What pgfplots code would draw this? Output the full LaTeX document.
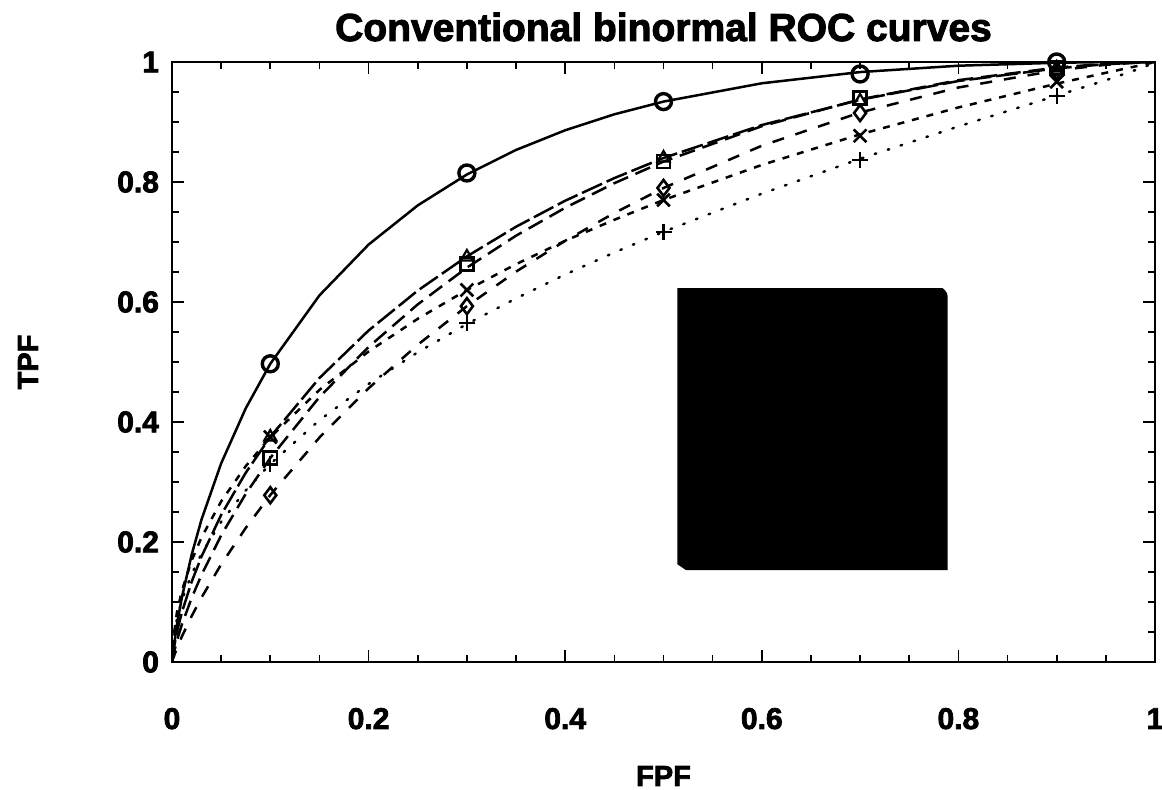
\documentclass[border=0pt]{standalone}
\usepackage{fontspec}
\setmainfont{Liberation Sans}
\newfontfamily\heavyfont{Liberation Sans}[BoldFeatures={FakeBold=2.5}]
\usepackage{pgfplots}
\pgfplotsset{compat=1.18}
\begin{document}
\begin{tikzpicture}
\useasboundingbox (-86pt,-64pt) rectangle (495pt,331pt);
\begin{axis}[
  at={(0,0)}, anchor=south west,
  scale only axis, width=491.5pt, height=300pt,
  xmin=0, xmax=1, ymin=0, ymax=1,
  xtick={0,0.2,0.4,0.6,0.8,1}, ytick={0,0.2,0.4,0.6,0.8,1},
  xticklabels={0,0.2,0.4,0.6,0.8,1}, yticklabels={0,0.2,0.4,0.6,0.8,1},
  minor x tick num=3, minor y tick num=3,
  tick align=inside, major tick length=6pt, minor tick length=3.5pt,
  every tick/.style={black, line width=0.8pt},
  axis line style={line width=1pt},
  xticklabel style={font=\heavyfont\fontsize{15}{15}\selectfont\bfseries, anchor=base, yshift=-33.5pt},
  yticklabel style={font=\heavyfont\fontsize{15}{15}\selectfont\bfseries, anchor=east, xshift=-3pt},
  xlabel={FPF}, ylabel={TPF},
  xlabel style={font=\heavyfont\fontsize{14.5}{14.5}\selectfont\bfseries, at={(axis description cs:0.5,0)}, anchor=base, yshift=-62pt},
  ylabel style={font=\heavyfont\fontsize{14.5}{14.5}\selectfont\bfseries, at={(axis description cs:-0.1465,0.5)}, anchor=center},
  title={Conventional binormal ROC curves},
  title style={font=\heavyfont\fontsize{19.5}{19.5}\selectfont\bfseries, at={(axis description cs:0.5,1)}, anchor=base, yshift=4.5pt},
  clip mode=individual,
  every axis plot/.append style={line width=1.25pt, black},
]
% legend box (blacked out)
\fill[black] (axis cs:0.514,0.623) -- (axis cs:0.784,0.623) [rounded corners=1.5pt] -- (axis cs:0.789,0.615) [sharp corners] -- (axis cs:0.789,0.153) -- (axis cs:0.523,0.153) -- (axis cs:0.514,0.163) -- cycle;

% circle: solid
\addplot[solid, mark=none] table {
x y
0 0
0.001 0.0161
0.005 0.0623
0.01 0.1073
0.02 0.1788
0.03 0.2373
0.05 0.331
0.075 0.4227
0.1 0.497
0.15 0.611
0.2 0.6957
0.25 0.761
0.3 0.8125
0.35 0.8534
0.4 0.8862
0.45 0.9128
0.5 0.934
0.6 0.9645
0.7 0.9832
0.8 0.9938
0.9 0.9987
0.95 0.9998
1 1
};
% triangle: long dash
\addplot[dash pattern=on 11pt off 2.5pt, mark=none] table {
x y
0 0
0.001 0.0150
0.005 0.0501
0.01 0.0826
0.02 0.1337
0.03 0.1757
0.05 0.2451
0.075 0.3153
0.1 0.3752
0.15 0.4733
0.2 0.5525
0.25 0.619
0.3 0.676
0.35 0.7254
0.4 0.7688
0.45 0.8065
0.5 0.84
0.6 0.8949
0.7 0.9371
0.8 0.9683
0.9 0.9894
0.95 0.9963
0.99 0.9996
1 1
};
% square: dashed long
\addplot[dash pattern=on 8pt off 4pt, mark=none] table {
x y
0 0
0.001 0.0091
0.005 0.0354
0.01 0.0622
0.02 0.1068
0.03 0.145
0.05 0.211
0.075 0.2802
0.1 0.340
0.15 0.4416
0.2 0.5251
0.25 0.596
0.3 0.6573
0.35 0.7105
0.4 0.757
0.45 0.798
0.5 0.834
0.6 0.893
0.7 0.9376
0.8 0.9697
0.9 0.9907
0.95 0.997
0.99 0.9998
1 1
};
% X: short dashes
\addplot[dash pattern=on 3.5pt off 4pt, mark=none] table {
x y
0 0
0.001 0.0349
0.005 0.0824
0.01 0.1186
0.02 0.169
0.03 0.2076
0.05 0.2676
0.075 0.3264
0.1 0.3745
0.15 0.4535
0.2 0.5175
0.25 0.572
0.3 0.620
0.35 0.663
0.4 0.702
0.45 0.737
0.5 0.77
0.6 0.8284
0.7 0.8794
0.8 0.9242
0.9 0.9639
0.95 0.982
0.99 0.9961
1 1
};
% diamond: medium dashes
\addplot[dash pattern=on 6pt off 6pt, mark=none] table {
x y
0 0
0.001 0.0053
0.005 0.0229
0.01 0.0423
0.02 0.0765
0.03 0.1073
0.05 0.1626
0.075 0.2233
0.1 0.2783
0.15 0.3741
0.2 0.4562
0.25 0.5287
0.3 0.593
0.35 0.6506
0.4 0.702
0.45 0.7483
0.5 0.79
0.6 0.8604
0.7 0.9158
0.8 0.9575
0.9 0.9861
0.95 0.9953
0.99 0.9998
1 1
};
% plus: dotted
\addplot[line cap=round, dash pattern=on 0.8pt off 6pt, mark=none] table {
x y
0 0
0.001 0.0307
0.005 0.0716
0.01 0.1028
0.02 0.1466
0.03 0.1804
0.05 0.2336
0.075 0.286
0.1 0.330
0.15 0.403
0.2 0.4634
0.25 0.5162
0.3 0.5632
0.35 0.606
0.4 0.6458
0.45 0.6825
0.5 0.717
0.6 0.7805
0.7 0.8387
0.8 0.8925
0.9 0.9439
0.95 0.9696
0.99 0.9921
1 1
};

% markers
\addplot[only marks, mark=o, mark size=4pt, mark options={line width=1.7pt}] coordinates {(0.1,0.497) (0.3,0.815) (0.5,0.934) (0.7,0.98) (0.9,1.0)};
\addplot[only marks, mark=triangle, mark size=3.5pt, mark options={line width=1.1pt}] coordinates {(0.1,0.375) (0.3,0.675) (0.5,0.84) (0.7,0.935) (0.9,0.99)};
\addplot[only marks, mark=square, mark size=3.3pt, mark options={line width=1.3pt}] coordinates {(0.1,0.34) (0.3,0.663) (0.5,0.834) (0.7,0.94) (0.9,0.99)};
\addplot[only marks, mark=x, mark size=4.5pt, mark options={line width=1.3pt}] coordinates {(0.1,0.375) (0.3,0.62) (0.5,0.77) (0.7,0.877) (0.9,0.967)};
\addplot[only marks, mark=diamond, mark size=4pt, mark options={line width=1.3pt}] coordinates {(0.1,0.278) (0.3,0.593) (0.5,0.79) (0.7,0.915) (0.9,0.985)};
\addplot[only marks, mark=+, mark size=4pt, mark options={line width=1.1pt}] coordinates {(0.1,0.33) (0.3,0.565) (0.5,0.717) (0.7,0.837) (0.9,0.943)};
\end{axis}
\end{tikzpicture}
\end{document}
